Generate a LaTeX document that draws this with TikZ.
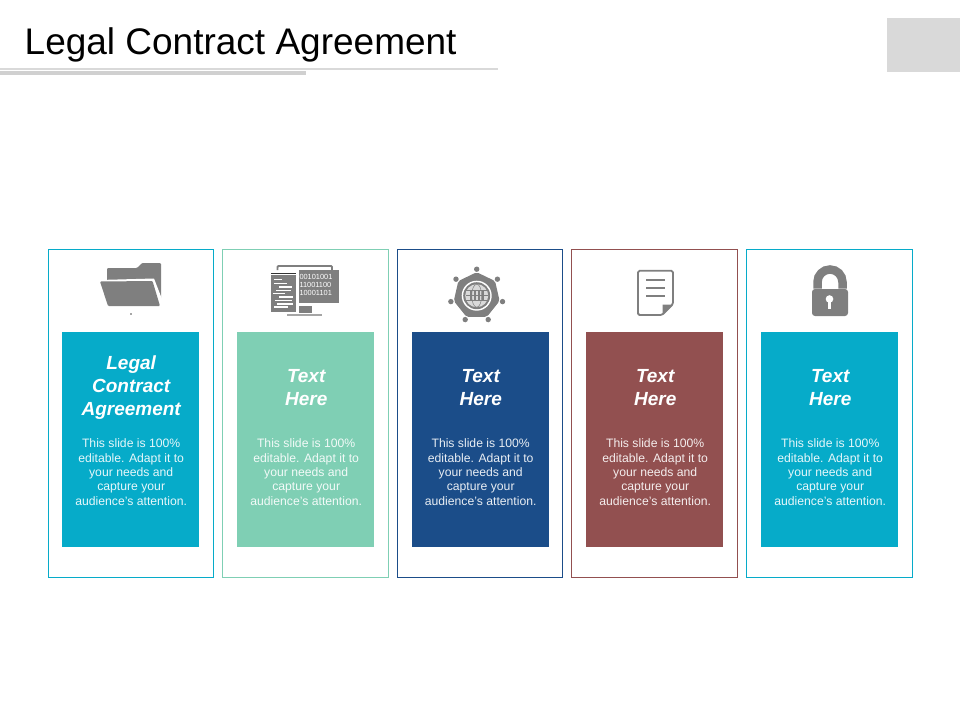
\documentclass[tikz,border=0pt]{standalone}
\usepackage{fontspec}
\usetikzlibrary{shapes.geometric}
\setmainfont{Liberation Sans}
\definecolor{tealbox}{HTML}{06ABC9}
\definecolor{mintbox}{HTML}{7FCFB4}
\definecolor{navybox}{HTML}{1B4D89}
\definecolor{brownbox}{HTML}{925050}
\definecolor{icongray}{HTML}{7F7F7F}
\definecolor{rulegray}{HTML}{D9D9D9}
\tikzset{
  cardbox/.style={draw,line width=.8pt,minimum width=165.5pt,minimum height=328pt,inner sep=0pt},
  fillbox/.style={minimum width=137pt,minimum height=215pt,inner sep=0pt},
  headtext/.style={text=white,align=center,font=\fontsize{19}{22.6}\selectfont\bfseries\itshape},
  bodytext/.style={align=center,font=\fontsize{12.2}{14.35}\selectfont},
  bintext/.style={text=white,anchor=west,inner sep=0pt,font=\fontsize{7.4}{7.4}\selectfont},
  gfill/.style={fill=icongray,draw=none},
  wfill/.style={fill=white,draw=none}
}
\begin{document}
\begin{tikzpicture}[x=1pt,y=-1pt]
\useasboundingbox (0,0) rectangle (960,720);
% title
\node[anchor=west,inner sep=0pt,font=\fontsize{37}{37}\selectfont] (title) at (24.5,44.8) {Legal Contract Agreement};
\fill[rulegray] (0,68) rectangle (498,69.5);
\fill[rulegray!96!black] (0,71) rectangle (306,74.5);
\fill[rulegray] (887,18) rectangle (960,72);
% cards
\foreach \i/\cx/\ix/\col/\head in {1/131/130.5/tealbox/{Legal\\Contract\\Agreement},2/305.5/305.5/mintbox/{Text\\Here},3/480/480/navybox/{Text\\Here},4/654.5/654.5/brownbox/{Text\\Here},5/829.5/829.5/tealbox/{Text\\Here}}
{
\node[cardbox,draw=\col] (card\i) at (\cx,413) {};
\node[fillbox,fill=\col] (fill\i) at (\ix,439.5) {};
\node[headtext] (head\i) at (\ix+.7,387.5) {\head};
\node[bodytext,text=white!90!\col] (body\i) at (\ix+.7,472) {This slide is 100\%\\editable. Adapt it to\\your needs and\\capture your\\audience's attention.};
}
% folder
\fill[gfill,rounded corners=1pt] (107,281) -- (107,268) -- (137,268) -- (142,263) -- (161,263) -- (161,300) -- (150,300) -- cycle;
\fill[wfill] (99,280) -- (154,278.5) -- (162,299) -- (162,308) -- (155,308) -- cycle;
\fill[gfill,rounded corners=1pt] (100,281.5) -- (152.5,281) -- (160,306) -- (108,306) -- cycle;
\fill[black!70] (131,314) circle [radius=.8];
% monitor and listing
\draw[icongray,line width=1.8pt,rounded corners=1pt] (277.5,270) -- (277.5,266) -- (332,266) -- (332,270);
\fill[gfill] (299,270) rectangle (339,303);
\node[bintext] (bin1) at (299.3,277.3) {00101001};
\node[bintext] (bin2) at (299.3,285.3) {11001100};
\node[bintext] (bin3) at (299.3,293.3) {10001101};
\fill[gfill] (299,306) rectangle (312,313);
\fill[icongray!70] (287,313.5) rectangle (322,316);
\fill[black!80] (271,273) rectangle (296,274);
\fill[gfill] (271,275) rectangle (296,312);
\foreach \xa/\xb/\yy in {274/282/279.5,274/287/283.5,279/292/287,276/291/290.5,273/285/293.5,279/293/297,275/292/300.5,277/293/304,274/288/307}
\fill[wfill] (\xa,\yy-.8) rectangle (\xb,\yy+.8);
% globe gear
\node[regular polygon,regular polygon sides=7,minimum size=47pt,inner sep=0pt,fill=icongray,rounded corners=2pt] (gear) at (476.7,295.7) {};
\foreach \k in {0,...,6}
\fill[icongray] (gear.center) ++(-90+\k*51.43:26.5) circle [radius=2.7];
\fill[wfill] (gear.center) circle [radius=15];
\fill[gfill] (gear.center) circle [radius=13.5];
\fill[black!15] (gear.center) circle [radius=11.5];
\draw[icongray,line width=.5pt] (gear.center) ellipse [x radius=5,y radius=11.5];
\draw[icongray,line width=.5pt] (gear.center) ++(-11,-5) -- ++(22,0) ++(-22,5) -- ++(22,0) ++(-22,5) -- ++(22,0);
\foreach \dx in {-6,-2,2,6}
\fill[icongray] (gear.center) ++(\dx-.8,-5) rectangle ++(1.6,10);
% document
\draw[icongray,line width=1.8pt,rounded corners=1.5pt] (662,315) -- (638,315) -- (638,270.8) -- (673,270.8) -- (673,304) -- cycle;
\fill[gfill] (662.5,304.5) -- (673,304.5) -- (662.5,315) -- cycle;
\foreach \yy in {280,288,296}
\fill[gfill] (646,\yy-1.4) rectangle (665,\yy+1.4);
% lock
\draw[icongray,line width=8.5pt] (817.5,288.6) -- (817.5,282) arc [start angle=180,end angle=360,radius=12.5] -- (842.5,288.6);
\fill[gfill,rounded corners=3pt] (812,289) rectangle (848,316);
\fill[wfill] (829.5,299) circle [radius=3.8];
\fill[wfill] (827.8,299) rectangle (831.2,309);
\end{tikzpicture}
\end{document}
